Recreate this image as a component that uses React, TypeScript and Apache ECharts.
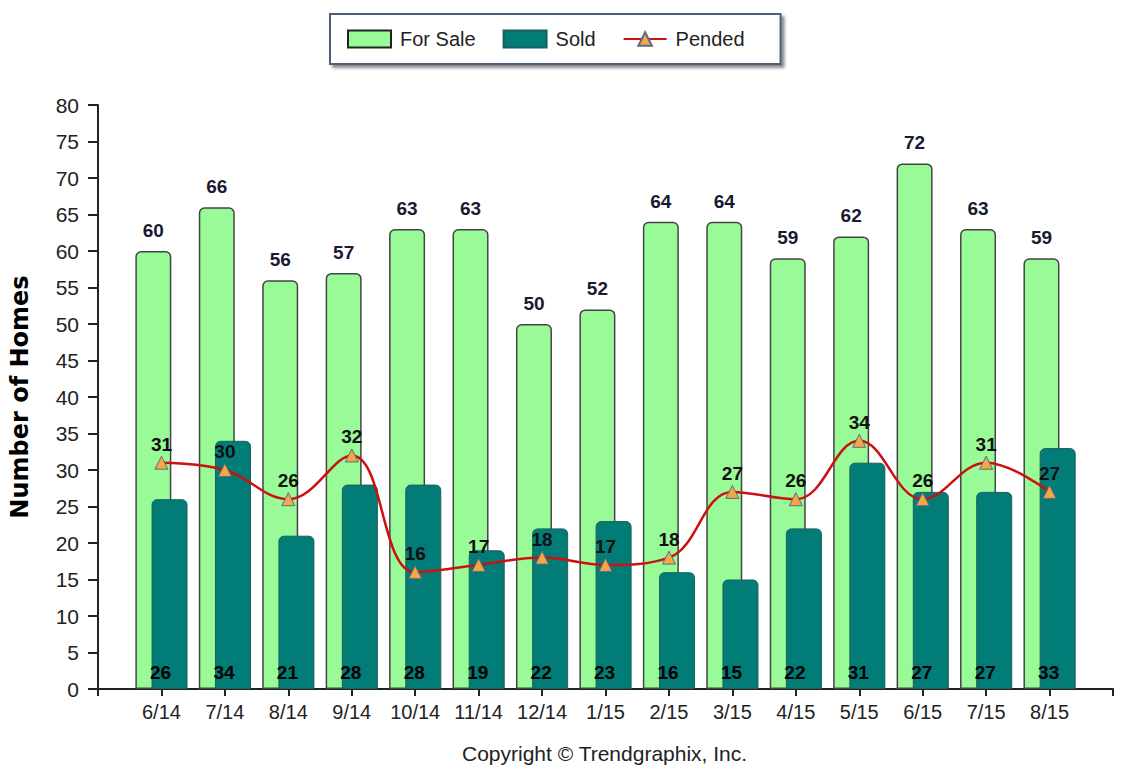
import React, { useEffect, useRef } from "react";
import * as echarts from "echarts";

const categories = ["6/14", "7/14", "8/14", "9/14", "10/14", "11/14", "12/14", "1/15", "2/15", "3/15", "4/15", "5/15", "6/15", "7/15", "8/15"];
const forSale = [60, 66, 56, 57, 63, 63, 50, 52, 64, 64, 59, 62, 72, 63, 59];
const sold = [26, 34, 21, 28, 28, 19, 22, 23, 16, 15, 22, 31, 27, 27, 33];
const pended = [31, 30, 26, 32, 16, 17, 18, 17, 18, 27, 26, 34, 26, 31, 27];
const yTicks = { min: 0, max: 80, interval: 5 };

const FONT = "'Liberation Sans', Arial, sans-serif";

export default function App() {
  const ref = useRef<HTMLDivElement>(null);
  useEffect(() => {
    document.body.style.margin = "0";
    if (!ref.current) return;
    const chart = echarts.init(ref.current, null, { renderer: "svg" });
    const pad = (arr: number[]) => ["-", ...arr, "-"] as any[];
    const axisCats = ["", ...categories, ""];
    chart.setOption({
      animation: false,
      textStyle: { fontFamily: FONT },
      legend: {
        left: 330,
        top: 14,
        padding: [15, 36, 15, 17],
        itemWidth: 43,
        itemHeight: 17,
        itemGap: 27,
        borderColor: "#4e5d7c",
        borderWidth: 2,
        backgroundColor: "#ffffff",
        shadowColor: "rgba(0,0,0,0.45)",
        shadowBlur: 3,
        shadowOffsetX: 3,
        shadowOffsetY: 3,
        textStyle: { fontFamily: FONT, fontSize: 20, color: "#222", padding: [0, 0, 0, 4] },
        data: [
          { name: "For Sale", icon: "rect", itemStyle: { borderColor: "#222", borderWidth: 2 } },
          { name: "Sold", icon: "rect" },
          { name: "Pended" },
        ],
      },
      grid: { left: 96, right: 28, top: 105, bottom: 87 },
      xAxis: {
        type: "category",
        data: axisCats,
        boundaryGap: false,
        axisLine: { lineStyle: { color: "#222", width: 2 } },
        axisTick: { show: true, length: 7, lineStyle: { color: "#222", width: 2 } },
        axisLabel: { fontFamily: FONT, fontSize: 20, color: "#222", margin: 13, interval: 0 },
        splitLine: { show: false },
      },
      yAxis: {
        type: "value",
        min: yTicks.min,
        max: yTicks.max,
        interval: yTicks.interval,
        name: "Number of Homes",
        nameLocation: "middle",
        nameGap: 66,
        nameTextStyle: { fontFamily: "'DejaVu Sans', Verdana, sans-serif", fontWeight: "bold", fontSize: 24, color: "#000" },
        axisLine: { show: true, lineStyle: { color: "#222", width: 2 } },
        axisTick: { show: true, length: 10, lineStyle: { color: "#222", width: 2 } },
        axisLabel: { fontFamily: FONT, fontSize: 21, color: "#222", margin: 19 },
        splitLine: { show: false },
      },
      series: [
        {
          name: "For Sale",
          type: "bar",
          data: pad(forSale),
          barWidth: 36,
          barGap: "-55%",
          itemStyle: { color: "#98fb98", borderColor: "#444", borderWidth: 1.5, borderRadius: [5, 5, 0, 0] },
          label: { show: true, position: "top", distance: 11, fontFamily: FONT, fontWeight: "bold", fontSize: 19, color: "#1a1a33" },
          z: 2,
        },
        {
          name: "Sold",
          type: "bar",
          data: pad(sold),
          barWidth: 36,
          itemStyle: { color: "#017c76", borderColor: "#1d5f5c", borderWidth: 1, borderRadius: [5, 5, 0, 0] },
          label: { show: true, position: "insideBottom", distance: 7, offset: [-9, 0], fontFamily: FONT, fontWeight: "bold", fontSize: 19, color: "#000" },
          z: 3,
        },
        {
          name: "Pended",
          type: "line",
          data: pad(pended),
          smooth: 0.4,
          symbol: "triangle",
          symbolSize: 13,
          lineStyle: { color: "#cc1111", width: 2.5 },
          itemStyle: { color: "#f5a742", borderColor: "#5a6a8a", borderWidth: 1 },
          label: { show: true, position: "top", distance: 2, fontFamily: FONT, fontWeight: "bold", fontSize: 19, color: "#111" },
          z: 5,
        },
      ],
      graphic: [
        {
          type: "text",
          left: 462,
          top: 743,
          style: { text: "Copyright © Trendgraphix, Inc.", fontFamily: FONT, fontSize: 21, fill: "#222" },
        },
      ],
    });
    return () => chart.dispose();
  }, []);
  return <div ref={ref} style={{ width: 1141, height: 776 }} />;
}
